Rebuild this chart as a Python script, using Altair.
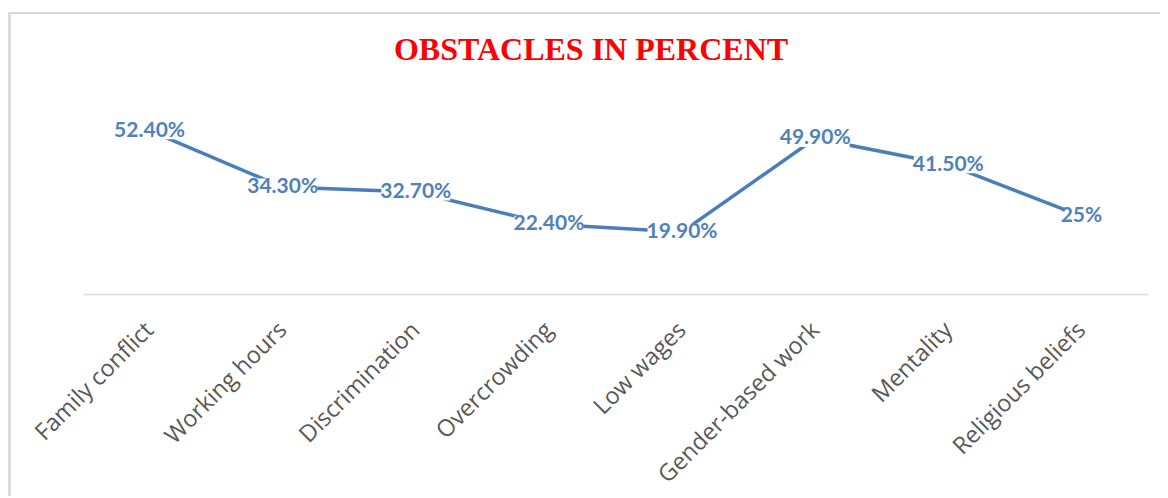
import altair as alt
import pandas as pd

categories = ["Family conflict", "Working hours", "Discrimination", "Overcrowding",
              "Low wages", "Gender-based work", "Mentality", "Religious beliefs"]
values = [52.4, 34.3, 32.7, 22.4, 19.9, 49.9, 41.5, 25.0]
value_labels = ["52.40%", "34.30%", "32.70%", "22.40%", "19.90%", "49.90%", "41.50%", "25%"]

df = pd.DataFrame({"category": categories, "value": values, "label": value_labels})

# white mask behind each value label (hides the line under the label box)
def mask_path(lbl):
    w = len(lbl) * 11.5
    r = 17.0 / w
    return f"M-1,-{r:.4f}L1,-{r:.4f}L1,{r:.4f}L-1,{r:.4f}Z"

df["mask_shape"] = [mask_path(l) for l in value_labels]
df["mask_size"] = [(len(l) * 11.5) ** 2 for l in value_labels]

W, H = 1065, 187
x_enc = alt.X("category:N", sort=categories,
              scale=alt.Scale(paddingInner=0, paddingOuter=0),
              axis=alt.Axis(title=None, labelAngle=-45, labelAlign="right",
                            labelBaseline="middle", labelPadding=32, labelLimit=400,
                            labelFont="Open Sans", labelFontSize=23.5,
                            labelColor="#595959", ticks=False,
                            domainColor="#d9d9d9", domainWidth=1.5))
y_enc = alt.Y("value:Q", scale=alt.Scale(domain=[0, 60]), axis=None)

frame = alt.Chart(df).mark_rect(fill=None, stroke="#d9d9d9", strokeWidth=1.5).encode(
    x=alt.value(-73.5), x2=alt.value(1100), y=alt.value(-94), y2=alt.value(420)
)

line = alt.Chart(df).mark_line(color="#4a7ebb", strokeWidth=3.5).encode(x=x_enc, y=y_enc)

mask = alt.Chart(df).mark_point(filled=True, fill="white", opacity=1, strokeWidth=0).encode(
    x=x_enc, y=y_enc,
    shape=alt.Shape("mask_shape:N", scale=None),
    size=alt.Size("mask_size:Q", scale=None),
)

text = alt.Chart(df).mark_text(font="Lato", fontWeight="bold", fontSize=21,
                               color="#4f81bd", align="center", baseline="middle").encode(
    x=x_enc, y=y_enc, text="label:N"
)

chart = alt.layer(frame, line, mask, text).properties(
    width=W, height=H, background="white",
    title=alt.TitleParams("OBSTACLES IN PERCENT", font="Liberation Serif", fontSize=32,
                          fontWeight="bold", color="#ff0000", anchor="middle",
                          frame="group", baseline="alphabetic", offset=-79.75, dx=-24.5),
    autosize=alt.AutoSizeParams(type="none"),
    padding={"left": 75, "top": 99, "right": 12, "bottom": 202},
).configure_view(strokeWidth=0, stroke="transparent")

chart.save("out.html", embed_options={"renderer": "svg", "actions": False})
